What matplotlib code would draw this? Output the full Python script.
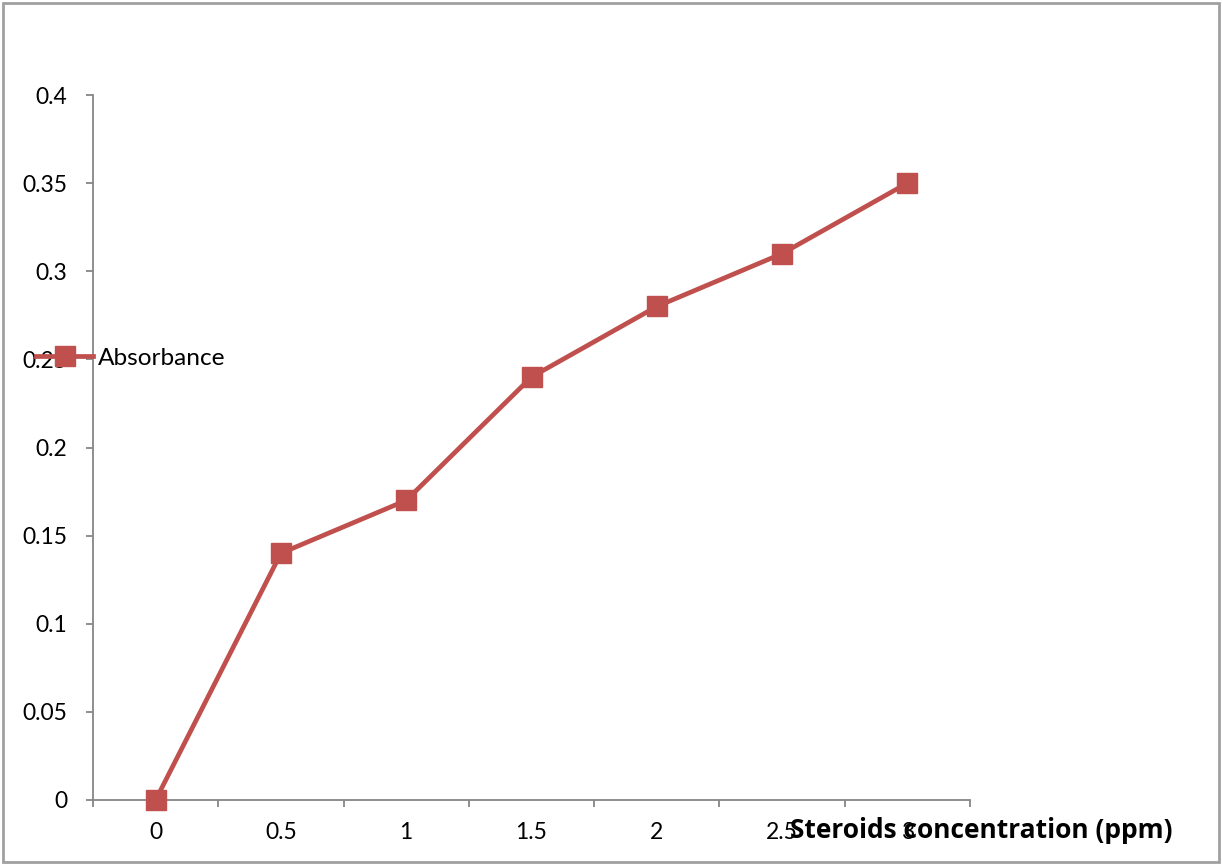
import matplotlib
matplotlib.use("Agg")
import matplotlib.pyplot as plt
from matplotlib.patches import Rectangle
from matplotlib.lines import Line2D

categories = ["0", "0.5", "1", "1.5", "2", "2.5", "3"]
absorbance = [0.0, 0.14, 0.17, 0.24, 0.28, 0.31, 0.35]
yticks = [0, 0.05, 0.1, 0.15, 0.2, 0.25, 0.3, 0.35, 0.4]
ytick_labels = ["0", "0.05", "0.1", "0.15", "0.2", "0.25", "0.3", "0.35", "0.4"]
series_name = "Absorbance"
xlabel = "Steroids concentration (ppm)"

W, H = 1222, 867
plt.rcParams['font.family'] = ['Lato', 'DejaVu Sans']
fig = plt.figure(figsize=(W / 100, H / 100), dpi=100)
ax = fig.add_axes([93 / W, 1 - 800 / H, (970 - 93) / W, (800 - 95) / H])

red = "#C0504D"
grey = "#868686"
xs = list(range(len(categories)))
ax.plot(xs, absorbance, color=red, lw=3.4, marker="s", markersize=14,
        markerfacecolor=red, markeredgecolor=red, clip_on=False, zorder=3)

ax.set_xlim(-0.5, len(categories) - 0.5)
ax.set_ylim(0, 0.4)
ax.set_xticks([i - 0.5 for i in range(len(categories) + 1)])
ax.set_xticklabels([])
ax.set_xticks(xs, minor=True)
ax.set_xticklabels(categories, minor=True)
ax.tick_params(axis="x", which="major", length=5, width=1.3, color=grey, direction="out")
ax.tick_params(axis="x", which="minor", length=0, pad=16, labelsize=16.5)
ax.set_yticks(yticks)
ax.set_yticklabels(ytick_labels)
ax.tick_params(axis="y", length=5, width=1.3, color=grey, direction="out",
               labelsize=16.5, pad=13.5)

for s in ["top", "right"]:
    ax.spines[s].set_visible(False)
for s in ["left", "bottom"]:
    ax.spines[s].set_color(grey)
    ax.spines[s].set_linewidth(1.3)

handle = Line2D([], [], color=red, lw=3.4, marker="s", markersize=14,
                markerfacecolor=red, markeredgecolor=red)
fig.legend([handle], [series_name], loc="center left",
           bbox_to_anchor=(36 / W, 1 - 358 / H), frameon=False, borderpad=0,
           borderaxespad=0, handlelength=2.35, handletextpad=0.2, fontsize=17.6)

fig.text(790 / W, 1 - 831 / H, xlabel, ha="left", va="center",
         fontsize=19, fontweight="bold", family=["Open Sans", "DejaVu Sans"])

fig.patches.append(Rectangle((3 / W, 5 / H), (1219 - 3) / W, (862 - 3) / H,
                             transform=fig.transFigure, fill=False,
                             edgecolor="#A0A0A0", lw=2))

fig.savefig("out.png", dpi=100)
